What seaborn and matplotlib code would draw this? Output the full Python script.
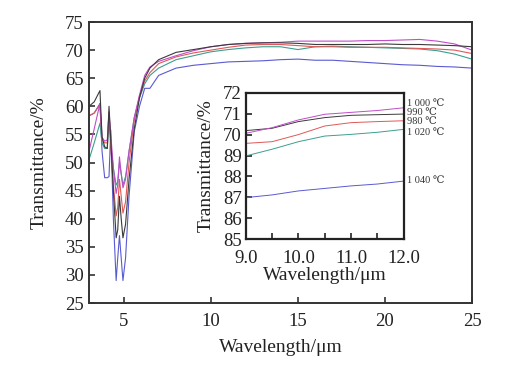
import matplotlib
matplotlib.use("Agg")
import matplotlib.pyplot as plt
import seaborn as sns
import pandas as pd
import numpy as np
from matplotlib.ticker import MultipleLocator

# main spectrum, wavelength in um, transmittance in %
wl = [3.0, 3.3, 3.63, 3.75, 3.9, 4.05, 4.15, 4.25, 4.4, 4.56, 4.65, 4.75, 4.85, 4.95,
      5.1, 5.3, 5.6, 5.9, 6.2, 6.5, 7.0, 8.0, 9.0, 10.0, 11.0, 12.0, 13.0, 14.0, 15.0,
      16.0, 17.0, 18.0, 19.0, 20.0, 21.0, 22.0, 23.0, 24.0, 25.0]
t_990 = [60.0, 60.8, 62.8, 54.5, 52.8, 52.5, 60.0, 54.0, 45.0, 36.6, 38.0, 44.0, 40.0, 36.6,
         39.0, 47.0, 56.0, 61.5, 65.0, 66.8, 68.3, 69.6, 70.1, 70.6, 71.0, 71.2, 71.3, 71.3, 71.2,
         71.0, 71.0, 71.0, 71.0, 71.1, 71.0, 71.0, 70.9, 70.8, 70.6]
t_980 = [58.3, 58.8, 60.3, 54.0, 53.5, 53.5, 59.0, 53.0, 46.0, 40.5, 42.0, 47.0, 44.0, 41.0,
         43.0, 50.0, 57.5, 61.8, 64.5, 66.0, 67.6, 68.8, 69.5, 70.0, 70.5, 70.9, 71.0, 71.0, 70.8,
         70.6, 70.6, 70.5, 70.5, 70.5, 70.4, 70.3, 70.2, 70.0, 69.4]
t_1000 = [52.0, 56.0, 60.5, 54.5, 53.8, 54.0, 59.0, 55.0, 49.0, 44.5, 46.0, 51.0, 48.0, 45.5,
          47.0, 52.0, 58.0, 62.0, 65.5, 67.0, 68.0, 69.0, 69.9, 70.6, 71.0, 71.2, 71.3, 71.4, 71.6,
          71.6, 71.6, 71.6, 71.7, 71.7, 71.8, 71.9, 71.6, 71.1, 70.0]
t_1020 = [50.5, 53.5, 57.0, 53.5, 52.5, 52.5, 57.0, 53.5, 49.0, 46.0, 46.5, 50.0, 48.0, 46.0,
          47.5, 52.0, 58.0, 61.5, 64.0, 65.5, 66.8, 68.3, 69.0, 69.7, 70.1, 70.4, 70.6, 70.6, 70.1,
          70.6, 70.7, 70.6, 70.5, 70.4, 70.3, 70.2, 69.9, 69.3, 68.4]
t_1040 = [58.3, 58.8, 60.5, 52.0, 47.3, 47.3, 47.5, 55.8, 40.0, 29.0, 33.0, 37.0, 33.0, 29.0,
          33.0, 44.0, 55.5, 60.0, 63.2, 63.2, 65.5, 66.8, 67.3, 67.6, 67.9, 68.0, 68.1, 68.3, 68.4,
          68.2, 68.2, 68.0, 67.8, 67.6, 67.4, 67.3, 67.1, 67.0, 66.8]

# inset, 9-12 um
wl_in = [9.0, 9.5, 10.0, 10.5, 11.0, 11.5, 12.0]
in_1000 = [70.06, 70.33, 70.70, 70.97, 71.06, 71.15, 71.28]
in_990 = [70.19, 70.30, 70.62, 70.81, 70.92, 70.95, 70.98]
in_980 = [69.58, 69.66, 70.00, 70.41, 70.57, 70.62, 70.66]
in_1020 = [68.98, 69.30, 69.66, 69.93, 70.01, 70.11, 70.25]
in_1040 = [66.99, 67.12, 67.31, 67.43, 67.55, 67.64, 67.78]
in_yticks = [65, 66, 67, 68, 69, 70, 71, 72]
in_ylabels = ["85", "86", "87", "88", "89", "70", "71", "72"]  # as printed in the original
temps = ["1 000 ℃", "990 ℃", "980 ℃", "1 020 ℃", "1 040 ℃"]

colors = {"990": "#3a3a3a", "980": "#e05858", "1000": "#c04cc8",
          "1020": "#3c9e90", "1040": "#5a5ad2"}

sns.set_style("ticks")
plt.rcParams["font.family"] = ["Liberation Serif", "DejaVu Serif", "DejaVu Sans"]

fig = plt.figure(figsize=(5.1, 3.7), dpi=100)
ax = fig.add_axes([0.1745, 0.181, 0.751, 0.7595])

main = pd.DataFrame({"wl": wl, "990": t_990, "980": t_980, "1000": t_1000,
                     "1020": t_1020, "1040": t_1040})
for key in ["1040", "1020", "980", "1000", "990"]:
    sns.lineplot(data=main, x="wl", y=key, ax=ax, color=colors[key], lw=0.8)

ax.set_xlim(3, 25)
ax.set_ylim(25, 75)
ax.xaxis.set_major_locator(MultipleLocator(5))
ax.yaxis.set_major_locator(MultipleLocator(5))
ax.tick_params(direction="in", length=4, width=1.2, labelsize=13.5, colors="#333333",
               labelcolor="#222222")
ax.tick_params(axis="x", pad=7)
ax.tick_params(axis="y", pad=4)
ax.set_xlabel("Wavelength/μm", fontsize=14, color="#222222", labelpad=7)
ax.set_ylabel("Transmittance/%", fontsize=14, color="#222222", labelpad=12)
for s in ax.spines.values():
    s.set_linewidth(1.4)
    s.set_color("#333333")

ins = fig.add_axes([0.4818, 0.3532, 0.310, 0.3963])
inset = pd.DataFrame({"wl": wl_in, "1000": in_1000, "990": in_990, "980": in_980,
                      "1020": in_1020, "1040": in_1040})
for key in ["1040", "1020", "980", "990", "1000"]:
    sns.lineplot(data=inset, x="wl", y=key, ax=ins, color=colors[key], lw=0.7)

ins.set_xlim(9, 12)
ins.set_ylim(65, 72)
ins.set_xticks([9, 10, 11, 12])
ins.set_xticklabels(["9.0", "10.0", "11.0", "12.0"])
ins.xaxis.set_minor_locator(MultipleLocator(0.5))
ins.set_yticks(in_yticks)
ins.set_yticklabels(in_ylabels)
ins.tick_params(which="both", direction="in", length=4, width=1.2, labelsize=13.5,
                colors="#222222", labelcolor="#222222")
ins.tick_params(axis="x", pad=8)
ins.tick_params(axis="y", pad=3)
ins.set_xlabel("Wavelength/μm", fontsize=14, color="#222222", labelpad=0)
ins.set_ylabel("Transmittance/%", fontsize=14, color="#222222", labelpad=6)
for s in ins.spines.values():
    s.set_linewidth(1.6)
    s.set_color("#222222")

label_y = [71.46, 71.06, 70.62, 70.11, 67.80]
for txt, yy in zip(temps, label_y):
    ins.text(12.06, yy, txt, fontsize=7.5, color="#333333", va="center", ha="left",
             clip_on=False)

fig.savefig("out.png", dpi=100)
